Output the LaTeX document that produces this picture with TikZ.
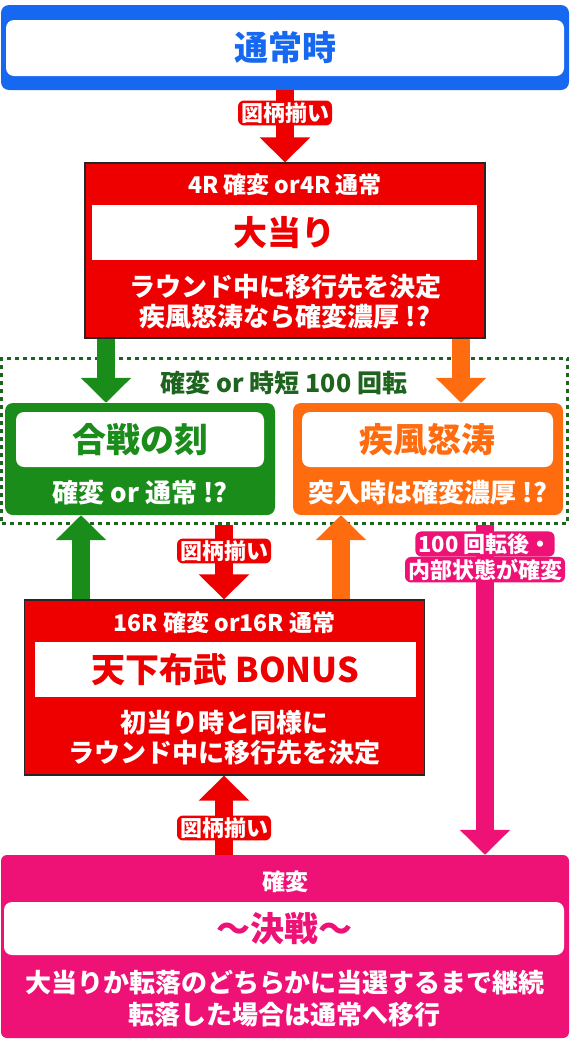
\documentclass[tikz,border=0pt]{standalone}
\usepackage{fontspec}
\setmainfont{Noto Sans CJK JP}
\usetikzlibrary{arrows.meta,positioning}
\definecolor{tsujoblue}{RGB}{22,104,240}
\definecolor{hitred}{RGB}{238,0,0}
\definecolor{kassengreen}{RGB}{26,140,26}
\definecolor{zonegreen}{RGB}{30,100,30}
\definecolor{dotoorange}{RGB}{255,108,16}
\definecolor{kessenpink}{RGB}{238,18,118}

\begin{document}
\begin{tikzpicture}[x=1pt,y=-1pt,
  frame/.style={rectangle,inner sep=0pt,rounded corners=8pt},
  bar/.style={rectangle,fill=white,inner sep=0pt,rounded corners=8pt,font=\bfseries\fontsize{34}{38}\selectfont},
  hitbox/.style={rectangle,fill=hitred,draw=black!85,line width=1.2pt,inner sep=0pt,minimum width=400pt,minimum height=175pt},
  title/.style={text=white,inner sep=0pt,font=\bfseries\fontsize{23}{25}\selectfont},
  body/.style={text=white,align=center,inner sep=0pt,font=\bfseries\fontsize{26}{30}\selectfont},
  tag/.style={text=white,rounded corners=6pt,inner xsep=3pt,inner ysep=2pt,font=\bfseries\fontsize{22}{24}\selectfont},
  flow/.style={line width=18pt,-{Triangle[width=49pt,length=25pt]}},
  zone/.style={draw=zonegreen,line width=3pt,dash pattern=on 4pt off 4pt,inner sep=0pt,minimum width=566pt,minimum height=165pt}
]
  \useasboundingbox (0,0) rectangle (570,1042);

  % normal state
  \node[frame,fill=tsujoblue,minimum width=568pt,minimum height=85pt] (normal) at (285,47.5) {};
  \node[bar,text=tsujoblue,minimum width=558pt,minimum height=56pt] (normalbar) at (285,48) {通常時};

  % first hit
  \node[hitbox] (hit) at (285,250.5) {};
  \node[title] (hittitle) at (285,185) {4R 確変 or4R 通常};
  \node[bar,rounded corners=0pt,text=hitred,minimum width=385pt,minimum height=55pt] (hitbar) at (284.5,232.5) {大当り};
  \node[body] (hitnote) at (285,302) {ラウンド中に移行先を決定\\疾風怒涛なら確変濃厚 !?};

  % 100 spins zone
  \node[zone] (zone) at (284.5,440.5) {};
  \node[inner sep=0pt,text=zonegreen,font=\bfseries\fontsize{25}{27}\selectfont] (zonelabel) at (284,383) {確変 or 時短 100 回転};

  \node[frame,fill=kassengreen,minimum width=270pt,minimum height=112pt] (kassen) at (140,459) {};
  \node[bar,text=kassengreen,minimum width=248pt,minimum height=55pt] (kassenbar) at (140,439.5) {合戦の刻};
  \node[body] (kassennote) at (140,493) {確変 or 通常 !?};

  \node[frame,fill=dotoorange,minimum width=270pt,minimum height=112pt] (doto) at (428,459) {};
  \node[bar,text=dotoorange,minimum width=251pt,minimum height=55pt] (dotobar) at (427.5,439.5) {疾風怒涛};
  \node[body] (dotonote) at (428,493) {突入時は確変濃厚 !?};

  % bonus
  \node[hitbox] (bonus) at (224.5,687.5) {};
  \node[title] (bonustitle) at (224.5,623) {16R 確変 or16R 通常};
  \node[bar,rounded corners=0pt,text=hitred,minimum width=381pt,minimum height=55pt] (bonusbar) at (225.5,669.5) {天下布武 BONUS};
  \node[body] (bonusnote) at (224.5,738) {初当り時と同様に\\ラウンド中に移行先を決定};

  % final battle
  \node[frame,rounded corners=6pt,fill=kessenpink,minimum width=568pt,minimum height=183pt] (kessen) at (285,946.5) {};
  \node[title] (kessentitle) at (285,882) {確変};
  \node[bar,text=kessenpink,minimum width=560pt,minimum height=53pt] (kessenbar) at (284,928.5) {～決戦～};
  \node[body,font=\bfseries\fontsize{26}{32}\selectfont] (kessennote) at (285,999) {大当りか転落のどちらかに当選するまで継続\\転落した場合は通常へ移行};

  % arrows
  \coordinate (gx) at (106,0);
  \coordinate (ox) at (461,0);
  \coordinate (gux) at (81,0);
  \coordinate (rdx) at (224,0);
  \coordinate (oux) at (341,0);
  \coordinate (px) at (485,0);
  \draw[flow,hitred] (normal.south) -- (hit.north);
  \draw[flow,kassengreen] (gx |- hit.south) -- (gx |- kassen.north);
  \draw[flow,dotoorange] (ox |- hit.south) -- (ox |- doto.north);
  \draw[flow,kassengreen] (gux |- bonus.north) -- (gux |- kassen.south);
  \draw[flow,hitred] (rdx |- zone.south) -- (rdx |- bonus.north);
  \draw[flow,dotoorange] (oux |- bonus.north) -- (oux |- doto.south);
  \draw[flow,kessenpink] (px |- zone.south) -- (px |- kessen.north);
  \draw[flow,hitred] (rdx |- kessen.north) -- (rdx |- bonus.south);

  \node[tag,fill=hitred] (tag1) at (285,113) {図柄揃い};
  \node[tag,fill=hitred] (tag2) at (224,551) {図柄揃い};
  \node[tag,fill=kessenpink] (tag3) at (485,544) {100 回転後・};
  \node[tag,fill=kessenpink,below=0pt of tag3] (tag3b) {内部状態が確変};
  \node[tag,fill=hitred] (tag4) at (224,828) {図柄揃い};
\end{tikzpicture}
\end{document}
